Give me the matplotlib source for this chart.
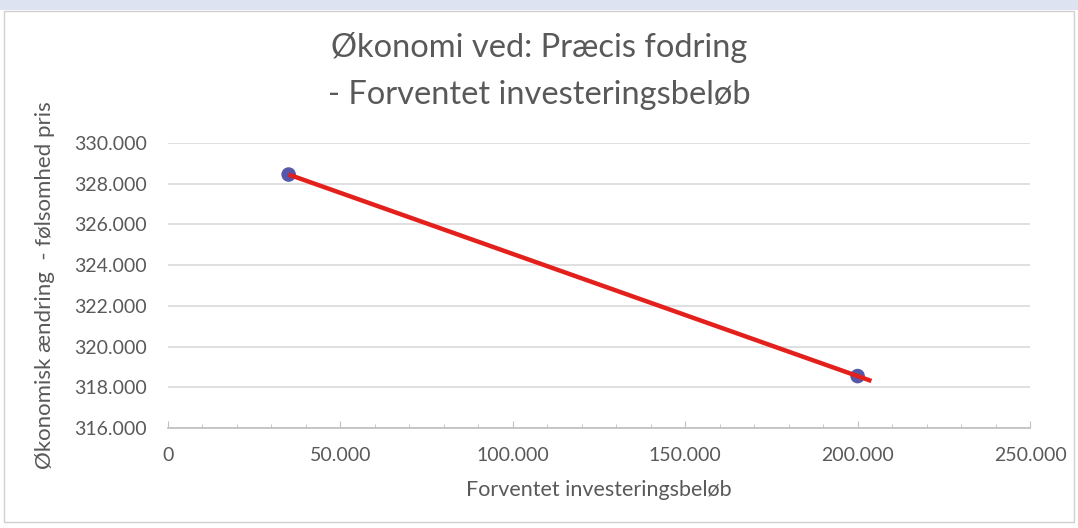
import matplotlib
matplotlib.use("Agg")
import matplotlib.pyplot as plt
import numpy as np
from matplotlib.ticker import FuncFormatter, MultipleLocator
from matplotlib.patches import Rectangle

# Data
invest = [35000, 200000]
econ = [328450, 318550]
title_lines = ["Økonomi ved: Præcis fodring", "- Forventet investeringsbeløb"]
xlabel = "Forventet investeringsbeløb"
ylabel = "Økonomisk ændring  - følsomhed pris"
trend_forward = 4000

plt.rcParams['font.family'] = ['Lato', 'DejaVu Sans']
txt = '#595959'

fig = plt.figure(figsize=(10.78, 5.28), dpi=100)
# frame / background decoration
fig.patches.append(Rectangle((0, 0.982), 1, 0.018, transform=fig.transFigure,
                             facecolor='#dde3f1', edgecolor='none', zorder=-2))
fig.patches.append(Rectangle((0.004, 0.012), 0.992, 0.968, transform=fig.transFigure,
                             facecolor='white', edgecolor='#d0d0d0', lw=1, zorder=-1))

ax = fig.add_axes([0.1558, 0.1894, 0.7997, 0.5398])
ax.set_zorder(2)
ax.patch.set_alpha(0)
ax.set_xlim(0, 250000)
ax.set_ylim(316000, 330000)

ax.xaxis.set_major_locator(MultipleLocator(50000))
ax.xaxis.set_minor_locator(MultipleLocator(10000))
ax.yaxis.set_major_locator(MultipleLocator(2000))
fmt = FuncFormatter(lambda v, p: f"{int(round(v)):,}".replace(",", "."))
ax.xaxis.set_major_formatter(fmt)
ax.yaxis.set_major_formatter(fmt)

ax.grid(axis='y', color='#dadada', lw=1.2, zorder=0)
for s in ['top', 'right', 'left']:
    ax.spines[s].set_visible(False)
ax.spines['bottom'].set_color('#bfbfbf')
ax.spines['bottom'].set_linewidth(1.2)

ax.tick_params(axis='x', which='major', direction='in', length=5, color='#bfbfbf',
               pad=14, labelsize=14, labelcolor=txt)
ax.tick_params(axis='x', which='minor', direction='in', length=3, color='#bfbfbf')
ax.tick_params(axis='y', length=0, pad=15, labelsize=14, labelcolor=txt)

ax.scatter(invest, econ, s=110, color='#5558a8', zorder=3, edgecolors='none')
coef = np.polyfit(invest, econ, 1)
tx = np.array([min(invest), max(invest) + trend_forward])
ax.plot(tx, np.polyval(coef, tx), color='#e3201b', lw=3.2, zorder=4,
        solid_capstyle='butt')

ax.set_xlabel(xlabel, fontsize=15.5, color=txt, labelpad=11)
ax.set_ylabel(ylabel, fontsize=16, color=txt, labelpad=14)

fig.text(0.5, 0.91, title_lines[0], ha='center', va='center', fontsize=23.5, color=txt)
fig.text(0.5, 0.82, title_lines[1], ha='center', va='center', fontsize=23.5, color=txt)

fig.savefig('out.png', dpi=100)
